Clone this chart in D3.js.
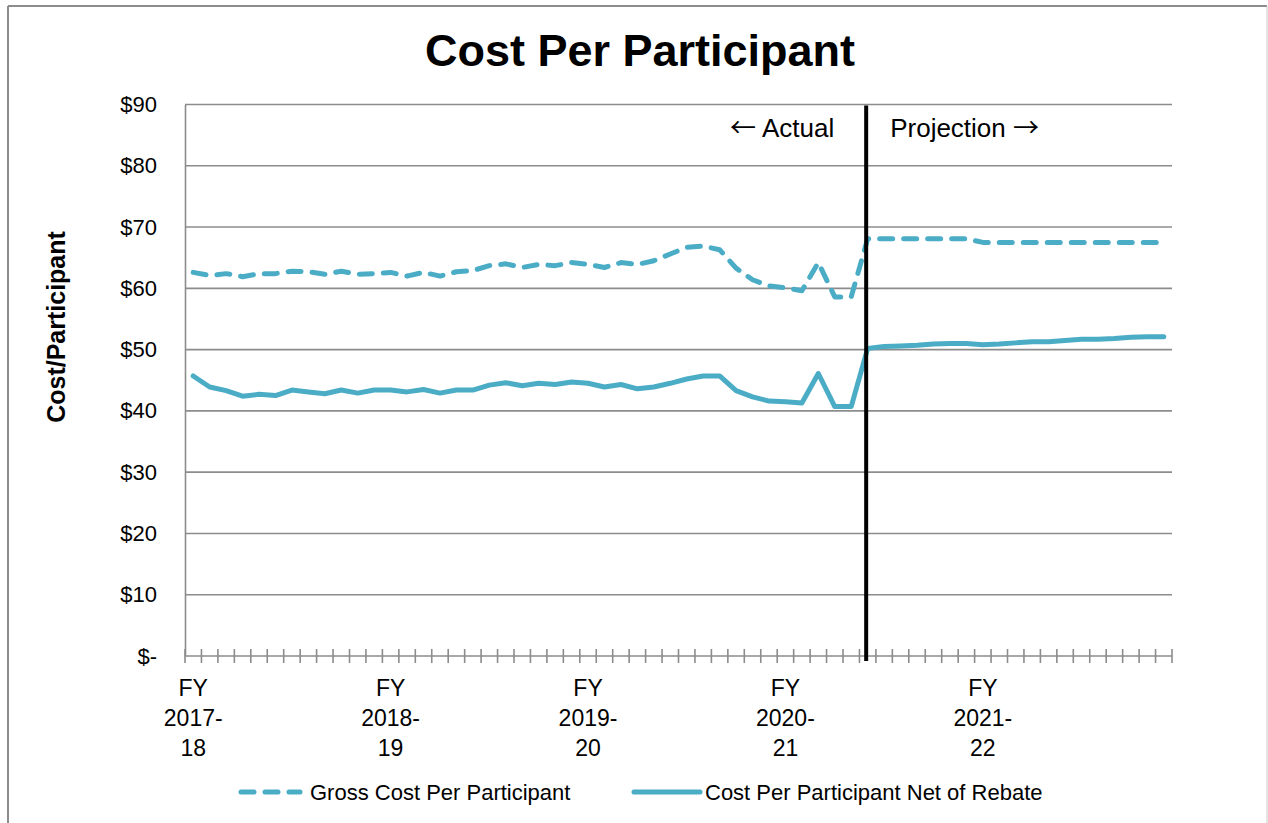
<!DOCTYPE html>
<html>
<head>
<meta charset="utf-8">
<script src="https://cdn.jsdelivr.net/npm/d3@7"></script>
<style>
  html, body { margin: 0; padding: 0; background: #fff; }
  svg { display: block; font-family: "Liberation Sans", Arial, sans-serif; }
</style>
</head>
<body>
<svg id="chart" width="1268" height="823"></svg>
<script>
// ---- data ----
const fiscalYears = ["FY 2017-18", "FY 2018-19", "FY 2019-20", "FY 2020-21", "FY 2021-22"];
const months = ["Jul","Aug","Sep","Oct","Nov","Dec","Jan","Feb","Mar","Apr","May","Jun"];
const gross = [
  62.6, 62.1, 62.4, 61.9, 62.4, 62.4, 62.8, 62.7, 62.3, 62.8, 62.3, 62.4,
  62.6, 62.0, 62.6, 62.0, 62.7, 62.9, 63.7, 64.0, 63.4, 63.9, 63.7, 64.2,
  63.9, 63.4, 64.2, 63.9, 64.5, 65.6, 66.7, 66.9, 66.3, 63.3, 61.4, 60.4,
  60.1, 59.6, 64.2, 58.6, 58.6, 68.1, 68.1, 68.1, 68.1, 68.1, 68.1, 68.1,
  67.5, 67.5, 67.5, 67.5, 67.5, 67.5, 67.5, 67.5, 67.5, 67.5, 67.5, 67.5
];
const net = [
  45.7, 43.9, 43.3, 42.4, 42.7, 42.5, 43.4, 43.1, 42.8, 43.4, 42.9, 43.4,
  43.4, 43.1, 43.5, 42.9, 43.4, 43.4, 44.2, 44.6, 44.1, 44.5, 44.3, 44.7,
  44.5, 43.9, 44.3, 43.6, 43.9, 44.5, 45.2, 45.7, 45.7, 43.3, 42.3, 41.6,
  41.5, 41.3, 46.1, 40.7, 40.7, 50.2, 50.5, 50.6, 50.7, 50.9, 51.0, 51.0,
  50.8, 50.9, 51.1, 51.3, 51.3, 51.5, 51.7, 51.7, 51.8, 52.0, 52.1, 52.1
];
const yTicks = [0, 10, 20, 30, 40, 50, 60, 70, 80, 90];
const projectionStartIndex = 41;
const seriesNames = ["Gross Cost Per Participant", "Cost Per Participant Net of Rebate"];

// categories: 60 months
const categories = [];
fiscalYears.forEach(fy => months.forEach(m => categories.push(fy + " " + m)));

// ---- layout ----
const svg = d3.select("#chart");
const W = 1268, H = 823;
const plot = { left: 185, right: 1172, top: 104.5, bottom: 656 };
const color = "#4BACC6";
const gridColor = "#8c8c8c";
const dash = "13,11";

// outer frame
svg.append("line").attr("x1", 8).attr("x2", 1267).attr("y1", 6).attr("y2", 6)
  .attr("stroke", "#8c8c8c").attr("stroke-width", 2);
svg.append("line").attr("x1", 8).attr("x2", 8).attr("y1", 6).attr("y2", H)
  .attr("stroke", "#8c8c8c").attr("stroke-width", 2);
svg.append("line").attr("x1", 1267).attr("x2", 1267).attr("y1", 6).attr("y2", H)
  .attr("stroke", "#c8c8c8").attr("stroke-width", 1);

const x = d3.scaleBand().domain(categories).range([plot.left, plot.right]).paddingInner(0).paddingOuter(0);
const y = d3.scaleLinear().domain([0, 90]).range([plot.bottom, plot.top]);
const cx = d => x(d) + x.bandwidth() / 2;

// title
svg.append("text").attr("x", 640).attr("y", 66).attr("text-anchor", "middle")
  .attr("font-size", 45).attr("font-weight", "bold").attr("fill", "#000")
  .text("Cost Per Participant");

// y-axis label
svg.append("text").attr("transform", `translate(65, 327) rotate(-90)`)
  .attr("text-anchor", "middle").attr("font-size", 25).attr("font-weight", "bold").attr("fill", "#000")
  .text("Cost/Participant");

// gridlines
svg.append("g").selectAll("line").data(yTicks.filter(t => t > 0)).join("line")
  .attr("x1", plot.left).attr("x2", plot.right)
  .attr("y1", d => y(d)).attr("y2", d => y(d))
  .attr("stroke", gridColor).attr("stroke-width", 1.6);

// y axis
const yAxis = d3.axisLeft(y).tickValues(yTicks).tickSize(0).tickPadding(28)
  .tickFormat(d => d === 0 ? "$-" : "$" + d);
const yg = svg.append("g").attr("transform", `translate(${plot.left},0)`).call(yAxis);
yg.select(".domain").attr("stroke", gridColor).attr("stroke-width", 1.6);
yg.selectAll("text").attr("font-size", 22).attr("fill", "#000")
  .attr("font-family", "'Liberation Sans', Arial, sans-serif");

// x axis line + cross ticks between categories
const xg = svg.append("g");
xg.append("line").attr("x1", plot.left).attr("x2", plot.right)
  .attr("y1", plot.bottom).attr("y2", plot.bottom)
  .attr("stroke", gridColor).attr("stroke-width", 1.6);
const tickPos = categories.map(c => x(c)).concat([plot.right]);
xg.selectAll("line.tick").data(tickPos).join("line").attr("class", "tick")
  .attr("x1", d => d).attr("x2", d => d)
  .attr("y1", plot.bottom - 7).attr("y2", plot.bottom + 7)
  .attr("stroke", gridColor).attr("stroke-width", 1.6);

// x labels at first month of each fiscal year
fiscalYears.forEach((fy, i) => {
  const c = categories[i * 12];
  const parts = fy.split(" ");
  const yrs = parts[1].split("-");
  const lines = [parts[0], yrs[0] + "-", yrs[1]];
  const t = svg.append("text").attr("text-anchor", "middle").attr("font-size", 23).attr("fill", "#000");
  lines.forEach((l, j) => {
    t.append("tspan").attr("x", cx(c)).attr("y", 696 + j * 30).text(l);
  });
});

// lines
const lineGen = d3.line().x((d, i) => cx(categories[i])).y(d => y(d)).curve(d3.curveLinear);
svg.append("path").datum(gross).attr("d", lineGen)
  .attr("fill", "none").attr("stroke", color).attr("stroke-width", 5)
  .attr("stroke-dasharray", dash).attr("stroke-linecap", "round").attr("stroke-linejoin", "round");
svg.append("path").datum(net).attr("d", lineGen)
  .attr("fill", "none").attr("stroke", color).attr("stroke-width", 5)
  .attr("stroke-linecap", "round").attr("stroke-linejoin", "round");

// actual / projection divider
const divX = cx(categories[projectionStartIndex]) - 1.5;
svg.append("line").attr("x1", divX).attr("x2", divX)
  .attr("y1", plot.top + 1).attr("y2", plot.bottom + 5)
  .attr("stroke", "#000").attr("stroke-width", 4);
const arrowFont = "'Noto Sans CJK SC', 'DejaVu Sans', sans-serif";
const tA = svg.append("text").attr("x", divX - 32).attr("y", 137).attr("text-anchor", "end")
  .attr("font-size", 26).attr("fill", "#000");
tA.append("tspan").attr("font-family", arrowFont).attr("font-size", 26).text("\u2190");
tA.append("tspan").text(" Actual");
const tP = svg.append("text").attr("x", divX + 24).attr("y", 137).attr("text-anchor", "start")
  .attr("font-size", 26).attr("fill", "#000");
tP.append("tspan").text("Projection ");
tP.append("tspan").attr("font-family", arrowFont).attr("font-size", 26).text("\u2192");

// legend
const legY = 792;
svg.append("line").attr("x1", 241).attr("x2", 300).attr("y1", legY).attr("y2", legY)
  .attr("stroke", color).attr("stroke-width", 5).attr("stroke-dasharray", dash)
  .attr("stroke-linecap", "round");
svg.append("text").attr("x", 310).attr("y", legY + 8).attr("font-size", 22).attr("fill", "#000")
  .text(seriesNames[0]);
svg.append("line").attr("x1", 634).attr("x2", 700).attr("y1", legY).attr("y2", legY)
  .attr("stroke", color).attr("stroke-width", 5).attr("stroke-linecap", "round");
svg.append("text").attr("x", 705).attr("y", legY + 8).attr("font-size", 22).attr("fill", "#000")
  .text(seriesNames[1]);
</script>
</body>
</html>
